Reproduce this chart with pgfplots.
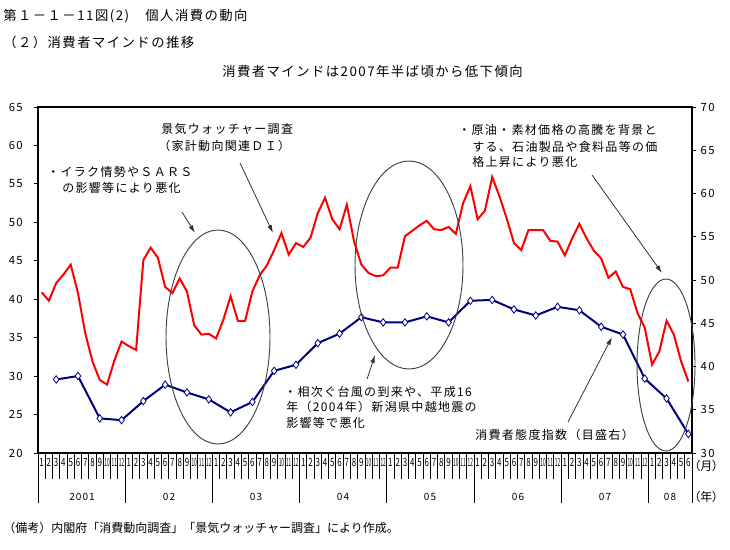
\documentclass[border=0pt]{standalone}
\usepackage{fontspec}
\setmainfont{Noto Sans CJK JP}
\newfontfamily\jps{Noto Sans CJK JP}[LetterSpace=11]
\newfontfamily\jpp{Noto Sans CJK JP}[RawFeature=+palt]
\usepackage{graphicx}
\usepackage{pgfplots}
\pgfplotsset{compat=1.18}
\usetikzlibrary{arrows.meta}
\definecolor{navy}{RGB}{0,0,128}
\newcommand{\tw}[1]{\scalebox{0.42}[1]{#1}}
\newcommand{\on}[1]{\scalebox{0.7}[1]{#1}}

% 景気ウォッチャー調査（家計動向関連DI）, 2001年1月=0
\pgfplotstableread{
m v
0 40.9
1 39.8
2 42.1
3 43.2
4 44.5
5 40.8
6 35.6
7 31.9
8 29.5
9 28.9
10 32.0
11 34.5
12 33.9
13 33.4
14 45.1
15 46.7
16 45.4
17 41.6
18 40.8
19 42.7
20 41.0
21 36.6
22 35.4
23 35.5
24 34.9
25 37.3
26 40.4
27 37.2
28 37.2
29 41.0
30 43.1
31 44.4
32 46.4
33 48.6
34 45.8
35 47.3
36 46.8
37 48.0
38 51.2
39 53.2
40 50.4
41 49.1
42 52.3
43 47.5
44 44.5
45 43.4
46 43.0
47 43.1
48 44.1
49 44.1
50 48.2
51 48.9
52 49.6
53 50.2
54 49.1
55 49.0
56 49.4
57 48.5
58 52.5
59 54.7
60 50.4
61 51.5
62 55.9
63 53.4
64 50.5
65 47.3
66 46.4
67 49.0
68 49.0
69 49.0
70 47.6
71 47.5
72 45.7
73 47.9
74 49.8
75 47.9
76 46.3
77 45.3
78 42.8
79 43.6
80 41.6
81 41.3
82 38.2
83 36.3
84 31.5
85 33.2
86 37.2
87 35.4
88 31.9
89 29.3
}\watcher

% 消費者態度指数（目盛右）
\pgfplotstableread{
m v
2 38.5
5 38.9
8 34.0
11 33.8
14 36.0
17 37.9
20 37.0
23 36.2
26 34.7
29 35.9
32 39.5
35 40.2
38 42.7
41 43.8
44 45.7
47 45.1
50 45.1
53 45.8
56 45.1
59 47.6
62 47.7
65 46.6
68 45.9
71 46.9
74 46.5
77 44.6
80 43.7
83 38.6
86 36.3
89 32.2
}\taido

\pgfplotsset{base/.style={
  at={(28.5pt,-339.75pt)}, anchor=south west,
  scale only axis, width=490.5pt, height=259.5pt,
  xmin=-0.5, xmax=89.5,
  axis line style={line width=1.5pt},
  tick align=outside,
  tick style={black, line width=0.75pt},
  y tick label style={font=\jps\fontsize{8.5}{9}\selectfont},
  /pgf/number format/assume math mode=true,
}}

\begin{document}
\begin{tikzpicture}
\path[use as bounding box] (0,0) rectangle (547.5pt,-411.75pt);

% box, month labels, red series
\begin{axis}[base,
  ymin=20, ymax=65,
  tick pos=left, ytick=\empty,
  xtick={0,...,89},
  major tick length=0pt,
  xticklabels={\on1,\on2,\on3,\on4,\on5,\on6,\on7,\on8,\on9,\tw{10},\tw{11},\tw{12},
               \on1,\on2,\on3,\on4,\on5,\on6,\on7,\on8,\on9,\tw{10},\tw{11},\tw{12},
               \on1,\on2,\on3,\on4,\on5,\on6,\on7,\on8,\on9,\tw{10},\tw{11},\tw{12},
               \on1,\on2,\on3,\on4,\on5,\on6,\on7,\on8,\on9,\tw{10},\tw{11},\tw{12},
               \on1,\on2,\on3,\on4,\on5,\on6,\on7,\on8,\on9,\tw{10},\tw{11},\tw{12},
               \on1,\on2,\on3,\on4,\on5,\on6,\on7,\on8,\on9,\tw{10},\tw{11},\tw{12},
               \on1,\on2,\on3,\on4,\on5,\on6,\on7,\on8,\on9,\tw{10},\tw{11},\tw{12},
               \on1,\on2,\on3,\on4,\on5,\on6},
  x tick label style={font=\fontsize{8.5}{8.5}\selectfont, inner sep=1pt, yshift=-3pt},
]
\addplot[red, line width=1.5pt, mark=none] table[x=m, y=v] {\watcher};
\end{axis}

% left scale and year separators
\begin{axis}[base,
  ymin=20, ymax=65,
  axis x line*=bottom, axis y line*=left,
  xtick=\empty,
  ytick={20,25,...,65}, major tick length=3pt,
  y tick label style={xshift=-5pt},
  extra x ticks={-0.5,11.5,23.5,35.5,47.5,59.5,71.5,83.5,89.5},
  extra x tick labels={},
  extra x tick style={major tick length=37.5pt},
]
\end{axis}

% right scale, 消費者態度指数
\begin{axis}[base,
  ymin=30, ymax=70,
  axis x line=none, axis y line*=right,
  ytick={30,35,...,70}, major tick length=3pt,
]
\addplot[navy, line width=1.5pt, mark=diamond*, mark size=2.8pt,
  mark options={fill=white, draw=navy, line width=0.6pt}] table[x=m, y=v] {\taido};
\end{axis}

\begin{scope}[x=0.75pt, y=-0.75pt]
  % month separators below the axis
  \foreach \k in {0,...,90}
    \draw[black, line width=0.75pt] ({38+\k*7.2667},453) -- ++(0,26);

  % titles
  \node[anchor=west, inner sep=0pt, font=\jps\fontsize{10}{12}\selectfont] at (3,16) {第１－１－11図(2)　個人消費の動向};
  \node[anchor=west, inner sep=0pt, font=\jps\fontsize{10}{12}\selectfont] at (3,42) {（２）消費者マインドの推移};
  \node[anchor=west, inner sep=0pt, font=\jps\fontsize{10}{12}\selectfont] at (222,71) {消費者マインドは2007年半ば頃から低下傾向};

  % ellipses
  \draw[black!75, line width=0.7pt] (218,337) ellipse [x radius=52, y radius=107];
  \draw[black!75, line width=0.7pt] (409,265) ellipse [x radius=54, y radius=104];
  \draw[black!75, line width=0.7pt] (666,365) ellipse [x radius=29, y radius=86];

  % arrows
  \begin{scope}[black!80, line width=0.6pt, -{Latex[length=6pt, width=3.5pt]}]
    \draw (182,212) -- (195,233);
    \draw (240,163) -- (273,233);
    \draw (367,379) -- (375,355);
    \draw (592,175) -- (662,273);
    \draw (568,422) -- (612,337);
  \end{scope}

  % annotations
  \begin{scope}[every node/.style={anchor=west, inner sep=0pt, font=\jps\fontsize{9}{11}\selectfont}]
    \node at (161,129) {景気ウォッチャー調査};
    \node at (158,146) {（家計動向関連ＤＩ）};
    \node at (47,172) {・イラク情勢やＳＡＲＳ};
    \node at (62,188) {の影響等により悪化};
    \node at (458,130) {・原油・素材価格の高騰を背景と};
    \node at (472,147) {する、石油製品や食料品等の価};
    \node at (472,162) {格上昇により悪化};
    \node at (284,392) {・相次ぐ台風の到来や、平成16};
    \node at (286,407) {年（2004年）新潟県中越地震の};
    \node at (286,423) {影響等で悪化};
    \node at (475,435) {消費者態度指数（目盛右）};
  \end{scope}
  \node[anchor=west, inner sep=0pt, font=\jpp\fontsize{9}{10}\selectfont] at (694,466) {（月）};
  \node[anchor=west, inner sep=0pt, font=\jpp\fontsize{9}{10}\selectfont] at (694,497) {（年）};

  % years
  \begin{scope}[every node/.style={inner sep=0pt, font=\jps\fontsize{7.5}{9}\selectfont}]
    \node at (82,497) {2001};
    \node at (169,497) {02};
    \node at (256,497) {03};
    \node at (343,497) {04};
    \node at (430,497) {05};
    \node at (518,497) {06};
    \node at (605,497) {07};
    \node at (670,497) {08};
  \end{scope}

  \node[anchor=west, inner sep=0pt, font=\fontsize{9}{10}\selectfont] at (3,528) {（備考）内閣府「消費動向調査」「景気ウォッチャー調査」により作成。};
\end{scope}
\end{tikzpicture}
\end{document}
